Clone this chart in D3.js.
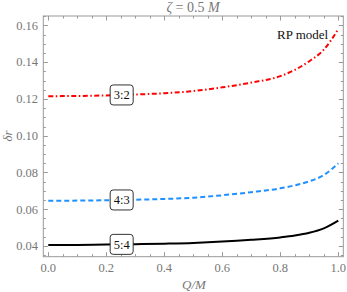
<!DOCTYPE html>
<html lang="en">
<head>
<meta charset="utf-8">
<title>RP model</title>
<script src="https://cdn.jsdelivr.net/npm/d3@7"></script>
<style>
  body { margin: 0; background: #fff; }
</style>
</head>
<body>
<svg id="chart" width="347" height="292" font-family="'Liberation Serif', 'Times New Roman', 'DejaVu Serif', serif"></svg>
<script>
// Data
var qValues = [0, 0.1, 0.2, 0.3, 0.4, 0.5, 0.6, 0.7, 0.8, 0.85, 0.9, 0.95, 1.0];
var res32 = [0.1215, 0.1216, 0.1219, 0.1224, 0.1231, 0.1243, 0.1263, 0.1289, 0.1324, 0.1358, 0.1405, 0.1468, 0.1580];
var res43 = [0.0646, 0.0647, 0.0649, 0.0652, 0.0656, 0.0663, 0.0676, 0.0693, 0.0714, 0.0730, 0.0752, 0.0786, 0.0850];
var res54 = [0.0405, 0.0406, 0.0408, 0.0410, 0.0413, 0.0417, 0.0424, 0.0434, 0.0447, 0.0457, 0.0472, 0.0496, 0.0538];
var seriesNames = ["3:2", "4:3", "5:4"];
var labelQ = 0.253;
var xTicks = [0, 0.2, 0.4, 0.6, 0.8, 1.0];
var yTicks = [0.04, 0.06, 0.08, 0.10, 0.12, 0.14, 0.16];

var svg = d3.select("#chart");
// plot frame edges
var fLeft = 43.3, fRight = 343.3, fTop = 16, fBottom = 256.7;

var x = d3.scaleLinear().domain([-0.0172, 1.0172]).range([fLeft, fRight]);
var y = d3.scaleLinear().domain([0.0342, 0.1651]).range([fBottom, fTop]);

var frameColor = "#999";
var labelColor = "#777";

// Frame
svg.append("rect")
  .attr("x", fLeft).attr("y", fTop)
  .attr("width", fRight - fLeft).attr("height", fBottom - fTop)
  .attr("fill", "none").attr("stroke", frameColor).attr("stroke-width", 1);

// Ticks (inward, all sides)
var xMinor = d3.range(0, 1.0001, 0.05);
var yMinor = d3.range(0.035, 0.16501, 0.005);
var g = svg.append("g").attr("stroke", frameColor).attr("stroke-width", 1);
xMinor.forEach(function(v) {
  var major = Math.abs(Math.round(v * 5) - v * 5) < 1e-6;
  var len = major ? 4.5 : 2.5;
  var px = Math.round(x(v)) + 0.5;
  g.append("line").attr("x1", px).attr("x2", px).attr("y1", fBottom).attr("y2", fBottom - len);
  g.append("line").attr("x1", px).attr("x2", px).attr("y1", fTop).attr("y2", fTop + len);
});
yMinor.forEach(function(v) {
  var major = Math.abs(Math.round(v * 50) - v * 50) < 1e-6;
  var len = major ? 4.5 : 2.5;
  var py = Math.round(y(v)) + 0.5;
  g.append("line").attr("x1", fLeft).attr("x2", fLeft + len).attr("y1", py).attr("y2", py);
  g.append("line").attr("x1", fRight).attr("x2", fRight - len).attr("y1", py).attr("y2", py);
});

// Tick labels
svg.selectAll(".xl").data(xTicks).enter().append("text")
  .attr("x", function(d) { return x(d); })
  .attr("y", 272)
  .attr("text-anchor", "middle")
  .attr("font-size", "12.5px")
  .attr("fill", labelColor)
  .text(function(d) { return d3.format(".1f")(d); });

svg.selectAll(".yl").data(yTicks).enter().append("text")
  .attr("x", 38)
  .attr("y", function(d) { return y(d) + 4.3; })
  .attr("text-anchor", "end")
  .attr("font-size", "12.5px")
  .attr("fill", labelColor)
  .text(function(d) { return d3.format(".2f")(d); });

// Axis labels and title
svg.append("text")
  .attr("x", 194).attr("y", 289)
  .attr("text-anchor", "middle")
  .attr("font-size", "13px")
  .attr("font-style", "italic")
  .attr("fill", labelColor)
  .text("Q/M");

svg.append("text")
  .attr("transform", "translate(12,136) rotate(-90)")
  .attr("text-anchor", "middle")
  .attr("font-size", "13px")
  .attr("font-style", "italic")
  .attr("fill", labelColor)
  .text("δr");

var title = svg.append("text")
  .attr("x", 193).attr("y", 12)
  .attr("text-anchor", "middle")
  .attr("font-size", "14px")
  .attr("fill", labelColor);
title.append("tspan").attr("font-style", "italic").text("ζ");
title.append("tspan").text(" = 0.5 ");
title.append("tspan").attr("font-style", "italic").text("M");

// Curves
var series = [
  { name: seriesNames[0], values: res32, color: "#ff0000", dash: "5,2.5,1.5,2.5" },
  { name: seriesNames[1], values: res43, color: "#1e90ff", dash: "5,3" },
  { name: seriesNames[2], values: res54, color: "#000000", dash: null }
];

var line = d3.line()
  .x(function(d) { return x(d[0]); })
  .y(function(d) { return y(d[1]); })
  .curve(d3.curveMonotoneX);

series.forEach(function(s) {
  var pts = qValues.map(function(q, i) { return [q, s.values[i]]; });
  svg.append("path")
    .attr("d", line(pts))
    .attr("fill", "none")
    .attr("stroke", s.color)
    .attr("stroke-width", 2)
    .attr("stroke-dasharray", s.dash);
});

// Series labels in rounded boxes
series.forEach(function(s) {
  // value at labelQ by linear interpolation
  var i = d3.bisectLeft(qValues, labelQ);
  var t = (labelQ - qValues[i - 1]) / (qValues[i] - qValues[i - 1]);
  var v = s.values[i - 1] + t * (s.values[i] - s.values[i - 1]);
  var cx = x(labelQ), cy = y(v);
  svg.append("rect")
    .attr("x", cx - 11.5).attr("y", cy - 10)
    .attr("width", 23).attr("height", 20)
    .attr("rx", 3).attr("ry", 3)
    .attr("fill", "#fff")
    .attr("stroke", "#333")
    .attr("stroke-width", 1);
  svg.append("text")
    .attr("x", cx).attr("y", cy + 4.3)
    .attr("text-anchor", "middle")
    .attr("font-size", "12.5px")
    .attr("fill", "#111")
    .text(s.name);
});

svg.append("text")
  .attr("x", 277).attr("y", 38.5)
  .attr("font-size", "13px")
  .attr("fill", "#111")
  .text("RP model");
</script>
</body>
</html>
